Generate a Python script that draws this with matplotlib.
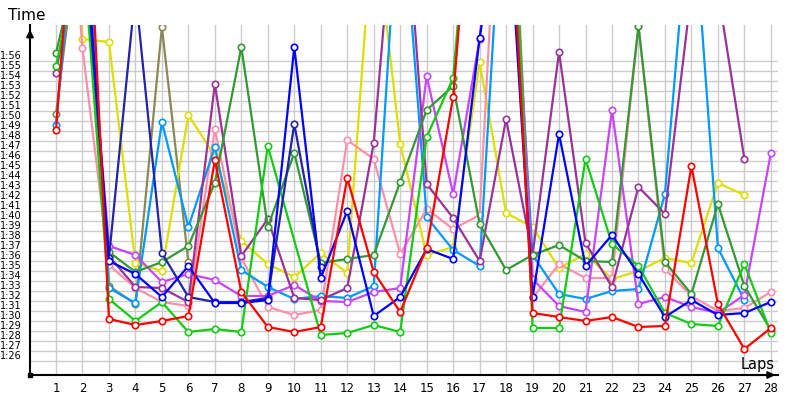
import numpy as np
import matplotlib.pyplot as plt
from matplotlib.ticker import FuncFormatter

nan = np.nan

# lap times in seconds (1:30 = 90), values above ~119.6 are off the top of the chart
laps = list(range(1, 29))

red = [109.1, 145, 90.2, 89.6, 90.0, 90.5, 106.1, 92.9, 89.4, 88.9, 89.4, 104.3, 94.9, 90.9,
       97.3, 112.4, 145, 140, 90.8, 90.4, 90.0, 90.4, 89.4, 89.5, 105.5, 91.7, 87.2, 89.3]
lime = [115.5, 128, 92.2, 90.0, 91.9, 88.9, 89.2, 88.9, 107.5, nan, 88.6, 88.8, 89.6, 88.9,
        108.4, 114.3, 145, 150, 89.3, 89.3, 106.2, 97.7, 95.5, 90.8, 89.7, 89.5, 95.7, 88.8]
darkgreen = [116.8, 128, 96.9, 94.9, 95.9, 97.5, 103.8, 117.4, 99.4, 106.8, 95.8, 96.2, 96.6, 103.9,
             111.1, 113.5, 99.7, 95.1, 96.6, 97.6, 96.0, 95.9, 119.5, 95.9, 92.7, 101.7, 93.5, 89.1]
purple = [114.8, 130, 96.5, 93.4, 93.3, 91.9, 113.7, 96.5, 100.2, 92.3, 92.1, 93.3, 107.8, 139,
          103.7, 100.3, 96.0, 110.2, 96.6, 116.9, 97.8, 93.4, 103.4, 100.7, 123, 123, 106.2, nan]
violet = [nan, 130, 97.5, 96.6, 93.9, 94.7, 94.1, 92.5, 92.5, 93.6, 92.0, 91.9, 92.9, 93.3,
          114.5, 102.7, 118.2, 145, 94.2, 91.5, 90.9, 111.1, 91.7, 92.4, 91.4, 90.8, 92.6, 106.8]
blue = [nan, 132, 96.0, 94.7, 92.4, 95.5, 91.8, 91.8, 92.1, 117.4, 94.3, 101.0, 90.5, 92.4,
        97.2, 96.2, 118.3, 135, 92.4, 108.7, 95.5, 98.6, 94.7, 90.4, 92.1, 90.6, 90.8, 91.9]
navy = [nan, 130, 96.3, 123, 96.8, 92.4, 91.9, 91.9, 92.3, 109.7, 95.4, nan, nan, nan,
        nan, nan, nan, nan, nan, nan, nan, nan, nan, nan, nan, nan, nan, nan]
lightblue = [109.6, 138, 93.3, 91.8, 109.9, 99.4, 107.4, 95.1, 93.4, 92.2, 92.5, 92.3, 93.5, 135,
             100.4, 97.1, 95.5, 140, 96.6, 92.7, 92.2, 93.0, 93.2, 102.7, 134, 97.3, 92.1, nan]
pink = [150, 117.3, 95.6, 93.3, 91.9, 91.5, 109.2, 96.3, 91.4, 90.6, 91.1, 108.1, 106.2, 96.7,
        101.2, 99.2, 100.6, 150, 92.3, 95.7, 94.3, 94.3, 119.5, 95.2, 92.5, 91.0, 91.3, 92.9]
yellow = [160, 118.2, 117.9, 95.8, 95.0, 110.6, 106.5, 98.0, 95.7, 94.4, 96.8, 94.8, 131, 107.7,
          96.6, 97.4, 115.9, 100.8, 99.4, 95.3, 96.7, 94.2, 95.0, 96.3, 95.8, 103.8, 102.6, nan]
olive = [110.7, 132, 93.5, 91.7, 119.4, 95.9, nan, nan, nan, nan, nan, nan, nan, nan,
         nan, nan, nan, nan, nan, nan, nan, nan, nan, nan, nan, nan, nan, nan]

series = [
    (olive, '#8a8955'),
    (yellow, '#dede00'),
    (pink, '#ff8fab'),
    (lightblue, '#0099ff'),
    (violet, '#c844ff'),
    (purple, '#993399'),
    (darkgreen, '#339933'),
    (lime, '#11cc11'),
    (navy, '#2222aa'),
    (blue, '#0000ff'),
    (red, '#ff0000'),
]

fig = plt.figure(figsize=(8, 4), dpi=100)
ax = fig.add_axes([30 / 800, 25 / 400, 748 / 800, 350 / 400])
ax.set_xlim(0.018, 28.27)
ax.set_ylim(84.6, 119.6)

x_all = np.array(laps)
for vals, col in series:
    v = np.array(vals, dtype=float)
    ok = ~np.isnan(v)
    # the line runs straight over a missing lap, like the original software
    ax.plot(x_all[ok], v[ok], color=col, lw=1.6, marker='o', ms=4.6, mfc='white',
            mec=col, mew=1.2, zorder=3)

ax.set_xticks(laps)
ax.set_yticks(range(86, 117))
ax.yaxis.set_major_formatter(FuncFormatter(lambda v, p: '%d:%02d' % (int(v) // 60, int(v) % 60)))
ax.grid(True, color='#cccccc', lw=1, zorder=0)
ax.tick_params(axis='both', length=0)
ax.tick_params(axis='y', labelsize=7, pad=6)
ax.tick_params(axis='x', labelsize=8.5, pad=5)
for t in ax.get_yticklabels():
    t.set_verticalalignment('bottom')

for s in ['top', 'right']:
    ax.spines[s].set_visible(False)
for s in ['left', 'bottom']:
    ax.spines[s].set_linewidth(1.5)
    ax.spines[s].set_color('black')

# arrow heads on the axes
ax.annotate('', xy=(0, 0.995), xytext=(0, 0.95), xycoords='axes fraction',
            arrowprops=dict(arrowstyle='-|>', color='black', lw=1.5, mutation_scale=10))
ax.annotate('', xy=(1.0, 0), xytext=(0.96, 0), xycoords='axes fraction',
            arrowprops=dict(arrowstyle='-|>', color='black', lw=1.5, mutation_scale=10))
ax.plot([0], [0], 's', color='black', ms=3, transform=ax.transAxes, clip_on=False)

fig.text(8 / 800, 1 - 15 / 400, 'Time', fontsize=11, ha='left', va='center')
fig.text(758 / 800, 1 - 364 / 400, 'Laps', fontsize=10.5, ha='center', va='center')

fig.savefig('out.png', dpi=100)
